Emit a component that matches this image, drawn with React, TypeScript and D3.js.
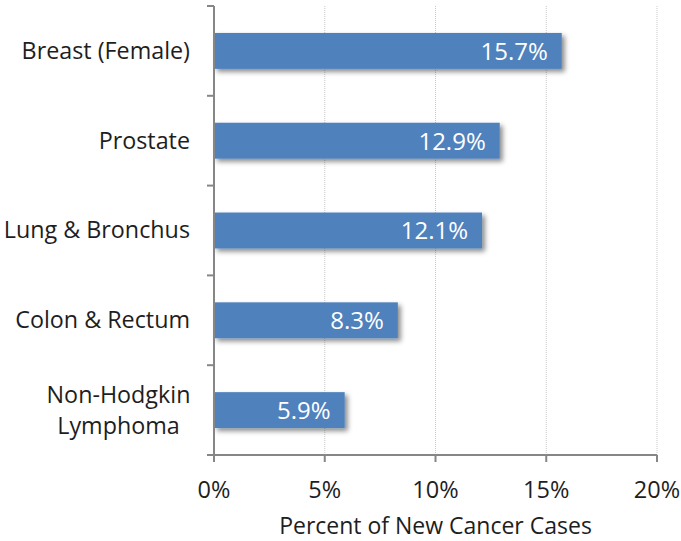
import { useEffect, useRef } from 'react'
import * as d3 from 'd3'

const categories = ['Breast (Female)', 'Prostate', 'Lung & Bronchus', 'Colon & Rectum', 'Non-Hodgkin Lymphoma']
const values = [15.7, 12.9, 12.1, 8.3, 5.9]
const xTicks = [0, 5, 10, 15, 20]
const axisTitle = 'Percent of New Cancer Cases'

const W = 681
const H = 541
const FONT = '"Open Sans", Lato, sans-serif'
const TEXT = '#1e1e1e'

export default function App() {
  const ref = useRef<SVGSVGElement | null>(null)

  useEffect(() => {
    if (!ref.current) return
    const svg = d3.select(ref.current)
    svg.selectAll('*').remove()

    const left = 214
    const right = 657
    const top = 6
    const bottom = 455

    const x = d3.scaleLinear().domain([0, 20]).range([left, right])
    const y = d3
      .scaleBand()
      .domain(categories)
      .range([top, bottom])
      .paddingInner(0.6)
      .paddingOuter(0.3)
    const edge = d3.scaleLinear().domain([0, categories.length]).range([top, bottom])

    const defs = svg.append('defs')
    const f = defs
      .append('filter')
      .attr('id', 'shadow')
      .attr('x', '-10%')
      .attr('y', '-30%')
      .attr('width', '130%')
      .attr('height', '180%')
    f.append('feDropShadow')
      .attr('dx', 3)
      .attr('dy', 3)
      .attr('stdDeviation', 2.5)
      .attr('flood-color', '#000')
      .attr('flood-opacity', 0.45)

    // gridlines
    svg
      .append('g')
      .selectAll('line')
      .data(xTicks.filter((t) => t > 0))
      .enter()
      .append('line')
      .attr('x1', (d) => x(d))
      .attr('x2', (d) => x(d))
      .attr('y1', top)
      .attr('y2', bottom)
      .attr('stroke', '#c8c8c8')
      .attr('stroke-width', 1)
      .attr('stroke-dasharray', '1,1')

    // bars
    svg
      .append('g')
      .selectAll('rect')
      .data(values)
      .enter()
      .append('rect')
      .attr('x', left)
      .attr('y', (_, i) => y(categories[i]) ?? 0)
      .attr('width', (d) => x(d) - left)
      .attr('height', y.bandwidth())
      .attr('fill', '#4f81bd')
      .attr('filter', 'url(#shadow)')

    // value labels
    svg
      .append('g')
      .selectAll('text')
      .data(values)
      .enter()
      .append('text')
      .attr('x', (d) => x(d) - 14)
      .attr('y', (_, i) => (y(categories[i]) ?? 0) + y.bandwidth() / 2)
      .attr('dy', '0.37em')
      .attr('text-anchor', 'end')
      .attr('fill', '#fff')
      .attr('font-family', FONT)
      .attr('font-size', 24)
      .text((d) => `${d.toFixed(1)}%`)

    // y axis
    const ax = svg.append('g').attr('stroke', '#868686').attr('stroke-width', 2)
    ax.append('line').attr('x1', left).attr('x2', left).attr('y1', top).attr('y2', bottom)
    ax.selectAll('.yt')
      .data(d3.range(categories.length + 1))
      .enter()
      .append('line')
      .attr('x1', left - 7)
      .attr('x2', left)
      .attr('y1', (d) => edge(d))
      .attr('y2', (d) => edge(d))
    // x axis
    ax.append('line').attr('x1', left - 7).attr('x2', right).attr('y1', bottom).attr('y2', bottom)
    ax.selectAll('.xt')
      .data(xTicks)
      .enter()
      .append('line')
      .attr('x1', (d) => x(d))
      .attr('x2', (d) => x(d))
      .attr('y1', bottom)
      .attr('y2', bottom + 7)

    // x tick labels
    svg
      .append('g')
      .selectAll('text')
      .data(xTicks)
      .enter()
      .append('text')
      .attr('x', (d) => x(d))
      .attr('y', 498)
      .attr('text-anchor', 'middle')
      .attr('fill', TEXT)
      .attr('font-family', FONT)
      .attr('font-size', 23.5)
      .text((d) => `${d}%`)

    // category labels
    const cl = svg
      .append('g')
      .selectAll('text')
      .data(categories)
      .enter()
      .append('text')
      .attr('fill', TEXT)
      .attr('font-family', FONT)
      .attr('font-size', 23.3)
      .attr('transform', (d) => `translate(0,${(y(d) ?? 0) + y.bandwidth() / 2})`)

    cl.each(function (d) {
      const words = d === 'Non-Hodgkin Lymphoma' ? ['Non-Hodgkin', 'Lymphoma'] : [d]
      const t = d3.select(this)
      const lh = 31
      t.attr('text-anchor', words.length > 1 ? 'middle' : 'end')
      words.forEach((w, i) => {
        t.append('tspan')
          .attr('x', words.length > 1 ? 118.5 : 190)
          .attr('y', (i - (words.length - 1) / 2) * lh)
          .attr('dy', '0.34em')
          .text(w)
      })
    })

    svg
      .append('text')
      .attr('x', (left + right) / 2)
      .attr('y', 534)
      .attr('text-anchor', 'middle')
      .attr('fill', TEXT)
      .attr('font-family', FONT)
      .attr('font-size', 23)
      .text(axisTitle)
  }, [])

  return (
    <svg
      ref={ref}
      width={W}
      height={H}
      viewBox={`0 0 ${W} ${H}`}
      style={{ position: 'absolute', left: 0, top: 0, background: '#fff' }}
    />
  )
}
